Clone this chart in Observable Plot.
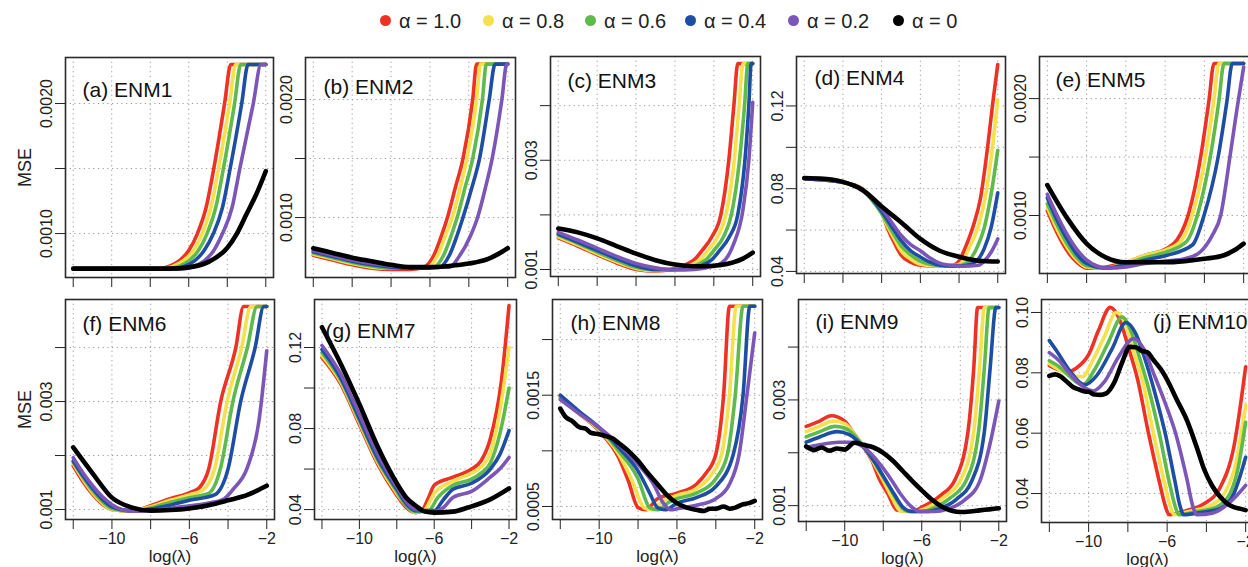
<!DOCTYPE html>
<html><head><meta charset="utf-8">
<script src="https://cdn.jsdelivr.net/npm/d3@7"></script>
<script src="https://cdn.jsdelivr.net/npm/@observablehq/plot@0.6"></script>
<style>
body{margin:0;background:#fff;overflow:hidden}
#fig{position:relative;width:1248px;height:567px;overflow:hidden;background:#fff;font-family:Arial,"Liberation Sans",Helvetica,sans-serif;color:#222}
.panel{position:absolute}
.item{position:absolute;top:8px;height:26px;line-height:26px;font-size:20px;white-space:nowrap}
.dot{position:absolute;width:11px;height:11px;border-radius:50%;top:8px}
</style></head>
<body><div id="fig"></div>
<script>
// ---------- data ----------
const ALPHAS = ["1.0", "0.8", "0.6", "0.4", "0.2", "0"];
const COLORS = ["#ee3124", "#f5e14b", "#5fba4c", "#1d4ea3", "#7b56b8", "#000000"];
const TITLES = ["(a) ENM1", "(b) ENM2", "(c) ENM3", "(d) ENM4", "(e) ENM5", "(f) ENM6", "(g) ENM7", "(h) ENM8", "(i) ENM9", "(j) ENM10"];
const X_TICKS = [-12, -10, -8, -6, -4, -2];
const X_LABELS = [-10, -6, -2];

// series order: alpha = 1.0, 0.8, 0.6, 0.4, 0.2, 0 ; points [log(lambda), MSE]
const ENM1 = [
  [[-12,.00073],[-7.5,.00073],[-7,.00075],[-6.5,.00079],[-6,.00087],[-5.55,.001],[-5.1,.0012],[-4.7,.0015],[-4.14,.002],[-3.82,.0023],[-2,.0023]],
  [[-12,.00073],[-7.3,.00073],[-6.8,.00075],[-6.3,.00079],[-5.75,.00087],[-5.3,.001],[-4.85,.0012],[-4.45,.0015],[-3.88,.002],[-3.56,.0023],[-2,.0023]],
  [[-12,.00073],[-7,.00073],[-6.5,.00075],[-6,.00079],[-5.5,.00087],[-5.05,.001],[-4.6,.0012],[-4.2,.0015],[-3.62,.002],[-3.3,.0023],[-2,.0023]],
  [[-12,.00073],[-6.7,.00073],[-6.2,.00075],[-5.7,.00079],[-5.2,.00087],[-4.72,.001],[-4.25,.0012],[-3.85,.0015],[-3.25,.002],[-2.92,.0023],[-2,.0023]],
  [[-12,.00073],[-6.2,.00073],[-5.7,.00075],[-5.2,.00079],[-4.7,.00087],[-4.25,.001],[-3.75,.0012],[-3.35,.0015],[-2.65,.002],[-2.25,.0023],[-2,.0023]],
  [[-12,.00073],[-7,.00073],[-6,.00074],[-5,.00078],[-4,.00089],[-3.5,.001],[-3,.00115],[-2.5,.0013],[-2,.00148]]
];
const ENM2 = [
  [[-12,.00068],[-11,.00064],[-10,.0006],[-9,.00057],[-8,.00056],[-7,.00056],[-6.3,.00058],[-5.8,.00068],[-5.4,.00085],[-5.1,.001],[-4.7,.00125],[-4.3,.0015],[-3.8,.002],[-3.6,.0023],[-2,.0023]],
  [[-12,.00069],[-11,.00065],[-10,.00061],[-9,.00058],[-8,.00057],[-7,.00057],[-6.1,.00058],[-5.6,.00068],[-5.2,.00085],[-4.85,.001],[-4.45,.00125],[-4.1,.0015],[-3.6,.002],[-3.4,.0023],[-2,.0023]],
  [[-12,.0007],[-11,.00066],[-10,.00062],[-9,.00059],[-8,.00057],[-7,.00057],[-5.8,.00058],[-5.3,.00068],[-4.9,.00085],[-4.6,.001],[-4.2,.00125],[-3.8,.0015],[-3.3,.002],[-3.1,.0023],[-2,.0023]],
  [[-12,.00071],[-11,.00067],[-10,.00063],[-9,.0006],[-8,.00058],[-7,.00057],[-5.5,.00058],[-5,.00068],[-4.6,.00085],[-4.3,.001],[-3.85,.00125],[-3.45,.0015],[-2.95,.002],[-2.65,.0023],[-2,.0023]],
  [[-12,.00072],[-11,.00068],[-10,.00064],[-9,.00061],[-8,.00059],[-7,.00058],[-5,.00058],[-4.5,.00067],[-3.9,.00085],[-3.55,.001],[-3.15,.00125],[-2.8,.0015],[-2.3,.002],[-2.05,.0023],[-2,.0023]],
  [[-12,.00074],[-11,.0007],[-10,.00066],[-9,.00063],[-8,.0006],[-7,.00058],[-6,.00058],[-5,.00059],[-4,.00061],[-3,.00065],[-2.5,.00069],[-2,.00074]]
];
const ENM3 = [
  [[-12,.00158],[-11,.00143],[-10,.00127],[-9,.00112],[-8,.001],[-7,.00097],[-6,.00102],[-5.5,.00108],[-5,.00118],[-4.6,.00135],[-4.1,.0016],[-3.64,.002],[-3.23,.003],[-2.97,.004],[-2.77,.00477],[-2,.00477]],
  [[-12,.0016],[-11,.00145],[-10,.00129],[-9,.00114],[-8,.00102],[-7,.00098],[-6,.001],[-5.2,.00108],[-4.7,.00118],[-4.3,.00135],[-3.8,.0016],[-3.38,.002],[-2.95,.003],[-2.7,.004],[-2.5,.00477],[-2,.00477]],
  [[-12,.00163],[-11,.00148],[-10,.00132],[-9,.00117],[-8,.00104],[-7,.00099],[-6,.001],[-4.9,.00108],[-4.4,.00118],[-4,.00135],[-3.5,.0016],[-3.1,.002],[-2.68,.003],[-2.42,.004],[-2.25,.00477],[-2,.00477]],
  [[-12,.00165],[-11,.0015],[-10,.00135],[-9,.0012],[-8,.00107],[-7,.001],[-6,.001],[-4.6,.00108],[-4.1,.00118],[-3.7,.00135],[-3.2,.0016],[-2.77,.002],[-2.4,.003],[-2.2,.004],[-2.08,.00477],[-2,.00477]],
  [[-12,.00168],[-11,.00154],[-10,.00139],[-9,.00124],[-8,.00111],[-7,.00103],[-6,.00099],[-5,.001],[-4.3,.00104],[-3.6,.00112],[-3,.00145],[-2.5,.0021],[-2.2,.003],[-2,.00406]],
  [[-12,.00175],[-11,.00168],[-10,.00157],[-9,.00143],[-8,.00129],[-7,.00117],[-6,.00109],[-5,.00106],[-4,.00107],[-3,.00113],[-2.5,.0012],[-2,.00131]]
];
const ENM4 = [
  [[-12,.0848],[-10,.083],[-9,.08],[-8.5,.075],[-8,.0686],[-7.7,.061],[-7.3,.053],[-7,.048],[-6.5,.0445],[-6,.043],[-5,.0425],[-4.3,.043],[-4,.045],[-3.7,.051],[-3.2,.064],[-2.9,.075],[-2.5,.102],[-2.25,.122],[-2,.14]],
  [[-12,.0848],[-10,.083],[-9,.0798],[-8.5,.075],[-8,.068],[-7.7,.062],[-7.3,.055],[-7,.05],[-6.5,.046],[-6,.0435],[-5,.0425],[-4.1,.043],[-3.8,.045],[-3.5,.051],[-3,.062],[-2.6,.078],[-2.3,.098],[-2,.123]],
  [[-12,.0848],[-10,.083],[-9,.0795],[-8.5,.0745],[-8,.068],[-7.5,.06],[-7,.0525],[-6.5,.048],[-6,.045],[-5.5,.0435],[-5,.0428],[-3.9,.043],[-3.5,.045],[-3.1,.051],[-2.7,.061],[-2.35,.077],[-2,.0986]],
  [[-12,.0848],[-10,.0831],[-9,.0795],[-8.5,.075],[-8,.069],[-7.5,.062],[-7,.055],[-6.5,.05],[-6,.047],[-5.5,.0445],[-5,.043],[-4.3,.0425],[-3.6,.043],[-3.1,.045],[-2.7,.051],[-2.35,.061],[-2,.078]],
  [[-12,.0849],[-10,.0832],[-9,.079],[-8.5,.0755],[-8,.0705],[-7.5,.064],[-7,.0575],[-6.5,.053],[-6,.05],[-5.5,.0465],[-5,.044],[-4.5,.043],[-3.8,.0425],[-3,.043],[-2.6,.046],[-2.3,.05],[-2,.0557]],
  [[-12,.0852],[-11,.0848],[-10,.0833],[-9,.0795],[-8,.0714],[-7,.0638],[-6,.0557],[-5,.05],[-4,.0471],[-3,.0452],[-2,.0448]]
];
const ENM5 = [
  [[-12,.00104],[-11.5,.00085],[-11,.0007],[-10.5,.0006],[-10,.00055],[-9,.00056],[-8,.0006],[-7,.00066],[-5.9,.00072],[-5.4,.00079],[-4.87,.00098],[-4.19,.0015],[-3.77,.00198],[-3.51,.0023],[-2,.0023]],
  [[-12,.00107],[-11.5,.00088],[-11,.00073],[-10.5,.00062],[-10,.00056],[-9,.00055],[-8,.0006],[-7,.00066],[-5.9,.00071],[-5.15,.00079],[-4.62,.001],[-3.95,.0015],[-3.52,.00198],[-3.26,.0023],[-2,.0023]],
  [[-12,.0011],[-11.5,.00092],[-11,.00076],[-10.5,.00064],[-10,.00057],[-9,.00055],[-8,.00059],[-7,.00064],[-5.9,.00069],[-4.9,.00078],[-4.36,.001],[-3.7,.0015],[-3.26,.00198],[-3,.0023],[-2,.0023]],
  [[-12,.00115],[-11.5,.00096],[-11,.0008],[-10.5,.00067],[-10,.00059],[-9,.00055],[-8,.00058],[-7,.00062],[-5.9,.00066],[-4.6,.00075],[-4.02,.001],[-3.3,.0015],[-2.85,.00198],[-2.58,.0023],[-2,.0023]],
  [[-12,.00118],[-11.5,.001],[-11,.00084],[-10.5,.00071],[-10,.00062],[-9.5,.00057],[-9,.00055],[-8,.00056],[-7,.00059],[-6,.00061],[-5,.00063],[-4.2,.00069],[-3.6,.00083],[-3.17,.001],[-2.7,.0015],[-2.35,.0019],[-2,.00227]],
  [[-12,.00126],[-11,.00098],[-10,.00076],[-9,.00064],[-8,.0006],[-7,.0006],[-6,.0006],[-5,.00061],[-4,.00063],[-3,.00066],[-2.5,.0007],[-2,.00076]]
];
const ENM6 = [
  [[-12,.00181],[-11.5,.00152],[-11,.00128],[-10.5,.0011],[-10,.001],[-9,.00097],[-8,.00107],[-7,.0012],[-6,.00131],[-5.5,.0014],[-5,.00175],[-4.38,.003],[-3.6,.004],[-3.2,.00476],[-2,.00476]],
  [[-12,.00185],[-11.5,.00156],[-11,.00131],[-10.5,.00112],[-10,.001],[-9,.00097],[-8,.00105],[-7,.00117],[-6,.00127],[-5.3,.00136],[-4.7,.00175],[-4.05,.003],[-3.3,.004],[-2.83,.00476],[-2,.00476]],
  [[-12,.00188],[-11.5,.0016],[-11,.00135],[-10.5,.00115],[-10,.00102],[-9,.00097],[-8,.00103],[-7,.00113],[-6,.00122],[-5,.0013],[-4.4,.00175],[-3.75,.003],[-3,.004],[-2.5,.00476],[-2,.00476]],
  [[-12,.0019],[-11.5,.00163],[-11,.00139],[-10.5,.00119],[-10,.00105],[-9,.00098],[-8,.00101],[-7,.00108],[-6,.00117],[-4.7,.00127],[-4,.00175],[-3.35,.003],[-2.6,.004],[-2.15,.00476],[-2,.00476]],
  [[-12,.00196],[-11.5,.00168],[-11,.00144],[-10.5,.00124],[-10,.00109],[-9.5,.001],[-9,.00097],[-8,.00098],[-7,.00102],[-6,.00107],[-5,.00112],[-4.2,.0012],[-3.7,.00139],[-3,.00178],[-2.4,.00265],[-2,.00394]],
  [[-12,.00215],[-11,.00167],[-10,.00122],[-9,.00104],[-8,.00098],[-7,.00099],[-6,.00102],[-5,.00108],[-4,.00117],[-3,.00127],[-2.5,.00135],[-2,.00144]]
];
const ENM7 = [
  [[-12,.115],[-11,.102],[-10,.082],[-9,.062],[-8,.047],[-7.5,.041],[-7,.0385],[-6.7,.039],[-6.3,.046],[-6,.052],[-5,.056],[-4,.06],[-3.5,.064],[-3,.075],[-2.4,.104],[-2,.1407]],
  [[-12,.116],[-11,.103],[-10,.083],[-9,.063],[-8,.048],[-7.5,.042],[-7,.0385],[-6.5,.04],[-6,.048],[-5,.054],[-4,.058],[-3.5,.061],[-3,.068],[-2.5,.088],[-2,.12]],
  [[-12,.1175],[-11,.104],[-10,.084],[-9,.064],[-8,.049],[-7.5,.042],[-7,.039],[-6.3,.0395],[-5.8,.046],[-5,.052],[-4,.055],[-3.5,.058],[-3,.063],[-2.5,.077],[-2,.1]],
  [[-12,.119],[-11,.105],[-10,.085],[-9,.065],[-8,.05],[-7.5,.043],[-7,.0395],[-6,.0395],[-5.5,.045],[-5,.05],[-4,.053],[-3,.06],[-2.5,.067],[-2,.079]],
  [[-12,.121],[-11,.107],[-10,.087],[-9,.067],[-8,.051],[-7.5,.044],[-7,.04],[-6,.039],[-5.5,.041],[-5,.046],[-4,.049],[-3,.056],[-2.5,.06],[-2,.0657]],
  [[-12,.13],[-11,.112],[-10,.092],[-9,.0706],[-8,.053],[-7.5,.046],[-7,.042],[-6.5,.039],[-6,.0385],[-5,.039],[-4.2,.041],[-3,.045],[-2,.0504]]
];
const ENM8 = [
  [[-12,.00148],[-11,.00133],[-10,.00118],[-9,.00094],[-8.5,.00073],[-8,.00049],[-7.6,.00047],[-7,.00057],[-6,.00062],[-5,.0007],[-4.5,.0008],[-4,.00097],[-3.6,.0015],[-3.3,.0023],[-2,.0023]],
  [[-12,.00148],[-11,.00133],[-10,.00119],[-9,.00097],[-8.3,.00073],[-7.7,.00049],[-7.3,.00047],[-6.7,.00055],[-6,.0006],[-5,.00066],[-4.3,.00077],[-3.7,.00097],[-3.3,.0015],[-2.95,.0023],[-2,.0023]],
  [[-12,.00149],[-11,.00134],[-10,.0012],[-9,.001],[-8,.00075],[-7.4,.00049],[-7,.00047],[-6.4,.00054],[-6,.00057],[-5,.00062],[-4,.00075],[-3.4,.00097],[-3,.0015],[-2.6,.0023],[-2,.0023]],
  [[-12,.0015],[-11,.00135],[-10,.00121],[-9,.00103],[-8,.00082],[-7.4,.00062],[-7,.00049],[-6.6,.00047],[-6,.00053],[-5,.00058],[-4,.00068],[-3.1,.00097],[-2.6,.0015],[-2.25,.0023],[-2,.0023]],
  [[-12,.00146],[-11,.00133],[-10,.00121],[-9,.00106],[-8,.00088],[-7.2,.0007],[-6.7,.00053],[-6.3,.00047],[-6,.00048],[-5,.00051],[-4,.00057],[-3.3,.0007],[-2.8,.00097],[-2.4,.0015],[-2,.00206]],
  [[-12,.00138],[-11.7,.0013],[-11.4,.00127],[-11,.00121],[-10.7,.0012],[-10.4,.00116],[-10,.00115],[-9.6,.00113],[-9.3,.00111],[-9,.00107],[-8.5,.001],[-8,.00091],[-7.5,.0008],[-7,.0007],[-6.5,.0006],[-6,.00053],[-5.5,.00049],[-5,.00047],[-4.6,.00046],[-4.3,.00048],[-4,.00048],[-3.6,.0005],[-3.3,.00048],[-3,.00049],[-2.6,.00052],[-2.3,.00053],[-2,.00055]]
];
const ENM9 = [
  [[-12,.0025],[-11.3,.0026],[-10.7,.0027],[-10,.0026],[-9.6,.0024],[-9,.0021],[-8.6,.00186],[-8.2,.0015],[-7.75,.00122],[-7.3,.00092],[-6.5,.00089],[-6,.00097],[-5,.0012],[-4.3,.00147],[-3.6,.0024],[-3.3,.0036],[-3.1,.00475],[-2,.00475]],
  [[-12,.0024],[-11.3,.0025],[-10.6,.0026],[-10,.00255],[-9.4,.0023],[-8.8,.002],[-8.3,.00168],[-7.9,.0014],[-7.5,.00112],[-7.1,.0009],[-6.3,.00089],[-5.8,.00095],[-4.8,.00117],[-4,.00147],[-3.3,.0024],[-3,.0036],[-2.75,.00475],[-2,.00475]],
  [[-12,.0023],[-11.3,.0024],[-10.5,.0025],[-9.9,.00245],[-9.2,.0022],[-8.6,.0019],[-8.1,.0016],[-7.6,.0013],[-7.2,.00105],[-6.8,.0009],[-6,.00089],[-5.5,.00094],[-4.5,.00115],[-3.7,.00147],[-3.05,.0024],[-2.75,.0036],[-2.5,.00475],[-2,.00475]],
  [[-12,.0022],[-11.3,.0023],[-10.4,.0024],[-9.8,.00235],[-9,.0021],[-8.4,.0018],[-7.9,.0015],[-7.4,.0012],[-7,.00098],[-6.5,.00089],[-5.7,.00089],[-5.2,.00093],[-4.2,.00112],[-3.4,.00147],[-2.75,.0024],[-2.45,.0036],[-2.15,.00475],[-2,.00475]],
  [[-12,.0021],[-11.3,.00215],[-10.3,.0022],[-9.7,.0022],[-9,.0021],[-8.2,.0018],[-7.6,.0015],[-7.1,.00122],[-6.6,.001],[-6.1,.00089],[-5.3,.00089],[-4.7,.00093],[-3.8,.0011],[-3,.00145],[-2.5,.0021],[-2,.00298]],
  [[-12,.00212],[-11.6,.00205],[-11.2,.0021],[-10.8,.00204],[-10.4,.00208],[-10,.00206],[-9.5,.00219],[-9,.00215],[-8.5,.0021],[-8,.002],[-7.5,.00185],[-7,.00166],[-6.5,.00147],[-6,.00129],[-5.5,.00112],[-4.9,.00097],[-4.4,.0009],[-4,.00088],[-3.5,.00089],[-3,.00091],[-2.5,.00093],[-2,.00095]]
];
const ENM10 = [
  [[-12,.0824],[-11.5,.081],[-11,.0805],[-10.6,.0817],[-10,.086],[-9.5,.094],[-8.9,.1017],[-8.4,.0973],[-8,.089],[-7.5,.0777],[-6.95,.06],[-6.4,.044],[-6.1,.036],[-5.9,.033],[-5,.0344],[-4.1,.0367],[-3.3,.042],[-2.6,.0555],[-2,.082]],
  [[-12,.083],[-11.5,.081],[-11,.0795],[-10.3,.0787],[-9.8,.084],[-9.2,.092],[-8.6,.1],[-8.1,.096],[-7.7,.087],[-7.2,.076],[-6.7,.06],[-6.15,.044],[-5.85,.036],[-5.65,.033],[-4.8,.0342],[-3.8,.036],[-3,.041],[-2.5,.05],[-2,.0693]],
  [[-12,.084],[-11.5,.082],[-11,.079],[-10.3,.076],[-9.7,.081],[-9,.09],[-8.3,.0985],[-7.85,.094],[-7.45,.086],[-6.95,.075],[-6.4,.06],[-5.9,.044],[-5.6,.036],[-5.4,.033],[-4.5,.034],[-3.5,.0355],[-2.8,.04],[-2.4,.048],[-2,.0636]],
  [[-12,.0907],[-11.6,.087],[-11,.081],[-10.2,.076],[-9.6,.079],[-8.8,.088],[-8.1,.0967],[-7.6,.093],[-7.15,.085],[-6.65,.074],[-6.1,.06],[-5.6,.044],[-5.35,.036],[-5.15,.033],[-4.2,.0338],[-3.3,.035],[-2.6,.04],[-2,.052]],
  [[-12,.0867],[-11.5,.084],[-11,.08],[-10.4,.076],[-9.75,.074],[-9.2,.077],[-8.5,.085],[-7.7,.0914],[-7.2,.088],[-6.7,.08],[-6.1,.07],[-5.57,.06],[-5,.045],[-4.7,.036],[-4.5,.033],[-3.7,.0335],[-3,.036],[-2.5,.039],[-2,.0427]],
  [[-12,.079],[-11.7,.0795],[-11.4,.0787],[-11.1,.077],[-10.8,.0753],[-10.5,.0745],[-10.2,.0738],[-10,.0737],[-9.7,.0728],[-9.4,.0727],[-9.1,.0732],[-8.7,.0767],[-8.3,.0833],[-7.9,.0886],[-7.6,.0885],[-7.3,.0873],[-7,.0868],[-6.7,.0843],[-6.3,.081],[-6,.0777],[-5.5,.071],[-5,.0644],[-4.5,.0555],[-4.1,.0478],[-3.7,.0425],[-3.3,.0389],[-2.9,.0365],[-2.6,.0355],[-2.3,.035],[-2,.0345]]
];
const SERIES = [ENM1, ENM2, ENM3, ENM4, ENM5, ENM6, ENM7, ENM8, ENM9, ENM10];

// y axis per panel: visible range, all tick positions, labelled ticks
const Y_DOMAIN = [[.000662,.002354],[.000492,.002356],[.000872,.0049],[.039,.1439],[.000504,.00236],
                  [.000815,.00489],[.0351,.1437],[.000383,.00236],[.0007,.0049],[.0304,.1043]];
const Y_TICKS = [[.001,.0015,.002],[.001,.0015,.002],[.001,.002,.003,.004],[.04,.06,.08,.1,.12],[.001,.0015,.002],
                 [.001,.002,.003,.004],[.04,.06,.08,.1,.12],[.0005,.001,.0015,.002],[.001,.002,.003,.004],[.04,.06,.08,.1]];
const Y_LABELS = [["0.0010","0.0020"],["0.0010","0.0020"],["0.001","0.003"],["0.04","0.08","0.12"],["0.0010","0.0020"],
                  ["0.001","0.003"],["0.04","0.08","0.12"],["0.0005","0.0015"],["0.001","0.003"],["0.04","0.06","0.08","0.10"]];

// ---------- layout (frame box in page pixels) ----------
const LAYOUT = [
  {l:65,t:57,w:208,h:220,tx:17,ty:33},{l:305,t:57,w:210,h:220,tx:18,ty:30},{l:550,t:56,w:210,h:220,tx:17,ty:25},
  {l:796,t:56,w:209,h:217,tx:18,ty:22},{l:1039,t:56,w:212,h:217,tx:16,ty:24},
  {l:65,t:299,w:209,h:220,tx:17,ty:25},{l:314,t:299,w:202,h:220,tx:11,ty:32},{l:552,t:299,w:210,h:220,tx:18,ty:24},
  {l:798,t:299,w:208,h:222,tx:17,ty:23},{l:1041,t:299,w:212,h:223,tx:-6,ty:23,right:true}
];
const LEGEND_X = [385, 488, 590, 690, 793, 898];

const fig = document.getElementById("fig");
const ML = 50, MR = 10, MT = 10;
const minus = d => String(d).replace("-", "\u2212");

SERIES.forEach((series, i) => {
  const L = LAYOUT[i];
  const bottomRow = i >= 5;
  const MB = bottomRow ? 50 : 20;
  const marks = [
    Plot.gridX({ticks: X_TICKS, stroke: "#9a9a9a", strokeOpacity: 1, strokeDasharray: "1.2,3.5"}),
    Plot.gridY({ticks: Y_TICKS[i], stroke: "#9a9a9a", strokeOpacity: 1, strokeDasharray: "1.2,3.5"}),
    Plot.axisX({ticks: X_TICKS, tickSize: 10, tickPadding: 3, fontSize: 16,
      tickFormat: d => (bottomRow && X_LABELS.includes(d)) ? minus(d) : "", label: null}),
    Plot.axisY({ticks: Y_TICKS[i], tickSize: 10, tickFormat: () => "", label: null}),
    Plot.text(Y_LABELS[i], {y: d => +d, text: d => d, frameAnchor: "left", dx: -19, rotate: -90,
      textAnchor: "middle", fontSize: 16, fill: "#222"})
  ];
  series.forEach((pts, k) => {
    marks.push(Plot.line(pts, {x: d => d[0], y: d => d[1], stroke: COLORS[k],
      strokeWidth: k === 5 ? 4.6 : 3.6, curve: "monotone-x"}));
  });
  marks.push(Plot.frame({stroke: "#2a2a2a", strokeWidth: 1.6}));
  marks.push(Plot.text([TITLES[i]], {frameAnchor: L.right ? "top-right" : "top-left", dx: L.tx, dy: L.ty,
    textAnchor: L.right ? "end" : "start", lineAnchor: "middle", fontSize: 21, fill: "#111"}));
  if (i === 0 || i === 5) {
    marks.push(Plot.text(["MSE"], {frameAnchor: "left", dx: -40, rotate: -90, textAnchor: "middle",
      lineAnchor: "middle", fontSize: 18, fill: "#222"}));
  }
  if (bottomRow) {
    marks.push(Plot.text(["log(\u03bb)"], {frameAnchor: "bottom", dy: 37.5, lineAnchor: "middle",
      fontSize: 17, fill: "#222"}));
  }
  const svg = Plot.plot({
    width: L.w + ML + MR, height: L.h + MT + MB,
    marginLeft: ML, marginRight: MR, marginTop: MT, marginBottom: MB,
    x: {domain: [-12.4, -1.6], label: null},
    y: {domain: Y_DOMAIN[i], label: null},
    style: {background: "transparent", overflow: "visible", color: "#222",
      fontFamily: "Arial, 'Liberation Sans', Helvetica, sans-serif"},
    marks
  });
  svg.classList.add("panel");
  svg.style.left = (L.l - ML) + "px";
  svg.style.top = (L.t - MT) + "px";
  svg.style.maxWidth = "none";
  fig.appendChild(svg);
});

// legend (above the panels)
ALPHAS.forEach((a, k) => {
  const cx = LEGEND_X[k];
  const dot = document.createElement("div");
  dot.className = "dot";
  dot.style.left = (cx - 5.5) + "px";
  dot.style.top = "15px";
  dot.style.background = COLORS[k];
  fig.appendChild(dot);
  const item = document.createElement("div");
  item.className = "item";
  item.style.left = (cx + 14) + "px";
  item.textContent = "\u03b1 = " + a;
  fig.appendChild(item);
});
</script>
</body></html>
